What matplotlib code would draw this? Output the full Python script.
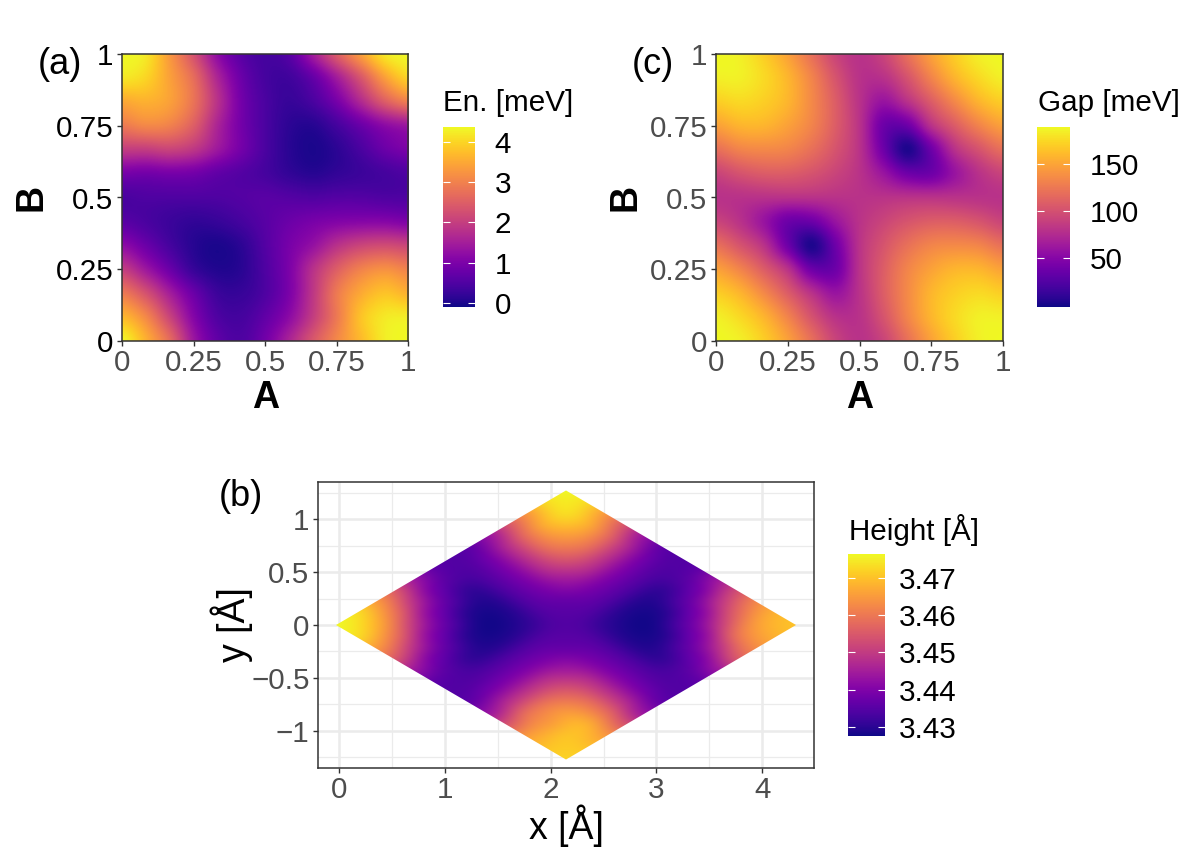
import numpy as np
import matplotlib
matplotlib.use("Agg")
import matplotlib.pyplot as plt
from matplotlib.patches import Polygon
from matplotlib.transforms import Affine2D

plt.rcParams['font.family'] = ['Liberation Sans', 'DejaVu Sans']

W, H = 1200, 855

# stacking energy on the A/B grid (rows: B = 0..1, columns: A = 0..1, step 1/12)
energy = [
    [4.37, 3.6, 2.7, 1.4, 0.7, 0.5, 0.9, 1.6, 2.4, 3.1, 3.7, 4.25, 4.37],
    [3.7, 3.1, 2.1, 1.1, 0.5, 0.4, 0.7, 1.2, 2.0, 2.9, 3.8, 4.2, 4.25],
    [2.9, 2.3, 1.5, 0.8, 0.3, 0.25, 0.5, 1.0, 1.9, 2.9, 3.5, 3.8, 3.6],
    [2.0, 1.4, 0.8, 0.25, 0.05, 0.12, 0.5, 1.0, 1.8, 2.5, 3.0, 3.2, 3.0],
    [1.2, 0.8, 0.4, 0.1, 0.0, 0.15, 0.55, 0.95, 1.3, 1.8, 2.1, 2.2, 2.1],
    [0.6, 0.45, 0.3, 0.2, 0.25, 0.4, 0.6, 0.8, 0.95, 1.05, 1.1, 1.1, 1.0],
    [0.45, 0.5, 0.5, 0.5, 0.5, 0.55, 0.6, 0.55, 0.5, 0.55, 0.55, 0.5, 0.5],
    [0.95, 0.9, 0.95, 0.9, 0.7, 0.55, 0.4, 0.2, 0.1, 0.2, 0.3, 0.4, 0.5],
    [2.0, 2.0, 2.1, 1.9, 1.4, 0.9, 0.45, 0.12, 0.0, 0.15, 0.45, 0.8, 1.0],
    [2.9, 3.1, 3.0, 2.5, 1.6, 0.9, 0.45, 0.15, 0.1, 0.4, 0.8, 1.2, 1.4],
    [3.5, 3.6, 3.4, 2.8, 1.8, 0.9, 0.45, 0.25, 0.45, 0.95, 1.7, 2.5, 3.0],
    [4.2, 4.0, 3.4, 2.7, 1.6, 0.8, 0.4, 0.35, 0.75, 1.5, 2.4, 3.4, 4.0],
    [4.37, 4.2, 3.3, 2.3, 1.2, 0.6, 0.4, 0.6, 1.5, 2.5, 3.4, 4.2, 4.37],
]

# band gap on the same grid
gap = [
    [189, 185, 170, 148, 120, 92, 80, 92, 120, 148, 170, 185, 189],
    [185, 175, 158, 132, 102, 80, 80, 102, 132, 158, 175, 185, 185],
    [170, 158, 135, 108, 80, 60, 80, 108, 135, 158, 170, 175, 170],
    [148, 132, 108, 80, 38, 38, 80, 108, 132, 148, 158, 158, 148],
    [120, 102, 80, 38, 3, 38, 80, 102, 120, 132, 135, 132, 120],
    [92, 80, 60, 38, 38, 60, 80, 92, 102, 108, 108, 102, 92],
    [80, 80, 80, 80, 80, 80, 80, 80, 80, 80, 80, 80, 80],
    [92, 102, 108, 108, 102, 92, 80, 60, 38, 38, 60, 80, 92],
    [120, 132, 135, 132, 120, 102, 80, 38, 3, 38, 80, 102, 120],
    [148, 158, 158, 148, 132, 108, 80, 38, 38, 80, 108, 132, 148],
    [170, 175, 170, 158, 135, 108, 80, 60, 80, 108, 135, 158, 170],
    [185, 185, 175, 158, 132, 102, 80, 80, 102, 132, 158, 175, 185],
    [189, 185, 170, 148, 120, 92, 80, 92, 120, 148, 170, 185, 189],
]

# interlayer height on the same grid, shown in cartesian coordinates
height = [
    [3.476, 3.473, 3.465, 3.455, 3.444, 3.4365, 3.4345, 3.4365, 3.444, 3.455, 3.465, 3.470, 3.472],
    [3.473, 3.468, 3.459, 3.448, 3.439, 3.4345, 3.4345, 3.439, 3.448, 3.459, 3.465, 3.470, 3.470],
    [3.465, 3.459, 3.449, 3.440, 3.4345, 3.431, 3.4345, 3.440, 3.449, 3.459, 3.465, 3.468, 3.465],
    [3.455, 3.448, 3.440, 3.4345, 3.4295, 3.4295, 3.4345, 3.440, 3.448, 3.455, 3.459, 3.459, 3.455],
    [3.444, 3.439, 3.4345, 3.4295, 3.428, 3.4295, 3.4345, 3.439, 3.444, 3.448, 3.449, 3.448, 3.444],
    [3.4365, 3.4345, 3.431, 3.4295, 3.4295, 3.431, 3.4345, 3.4365, 3.439, 3.440, 3.440, 3.439, 3.4365],
    [3.4345, 3.4345, 3.4345, 3.4345, 3.4345, 3.4345, 3.4345, 3.4345, 3.4345, 3.4345, 3.4345, 3.4345, 3.4345],
    [3.4365, 3.439, 3.440, 3.440, 3.439, 3.4365, 3.4345, 3.431, 3.4295, 3.4295, 3.431, 3.4345, 3.4365],
    [3.444, 3.448, 3.449, 3.448, 3.444, 3.439, 3.4345, 3.4295, 3.428, 3.4295, 3.4345, 3.439, 3.444],
    [3.455, 3.459, 3.459, 3.455, 3.448, 3.440, 3.4345, 3.4295, 3.4295, 3.4345, 3.440, 3.448, 3.455],
    [3.465, 3.468, 3.465, 3.459, 3.449, 3.440, 3.4345, 3.431, 3.4345, 3.440, 3.449, 3.459, 3.463],
    [3.473, 3.473, 3.468, 3.459, 3.448, 3.439, 3.4345, 3.4345, 3.439, 3.448, 3.457, 3.465, 3.468],
    [3.476, 3.473, 3.465, 3.455, 3.444, 3.4365, 3.4345, 3.4365, 3.444, 3.453, 3.462, 3.468, 3.470],
]

unit_ticks = [0, 0.25, 0.5, 0.75, 1]
unit_labels = ['0', '0.25', '0.5', '0.75', '1']
energy_ticks = [0, 1, 2, 3, 4]
gap_ticks = [50, 100, 150]
height_ticks = [3.43, 3.44, 3.45, 3.46, 3.47]
x_ticks = [0, 1, 2, 3, 4]
y_ticks = [-1, -0.5, 0, 0.5, 1]
y_labels = ['\u22121', '\u22120.5', '0', '0.5', '1']
x_minor = [0.5, 1.5, 2.5, 3.5]
y_minor = [-1.25, -0.75, -0.25, 0.25, 0.75, 1.25]

# half-cell step so grid nodes sit on the 0..1 range
EXT = [-1 / 24, 1 + 1 / 24, -1 / 24, 1 + 1 / 24]
GREY = '#4D4D4D'
DARK = '#333333'
FS = 21.3


def px_axes(fig, left, top, right, bottom):
    return fig.add_axes([left / W, 1 - bottom / H, (right - left) / W, (bottom - top) / H])


def px_text(fig, x, y, s, **kw):
    kw.setdefault('va', 'center')
    kw.setdefault('color', 'black')
    fig.text(x / W, 1 - y / H, s, **kw)


def style_axes(ax):
    for sp in ax.spines.values():
        sp.set_color(DARK)
        sp.set_linewidth(1.1)
    ax.tick_params(length=3.6, width=1.0, color=DARK, labelsize=FS, pad=2.5)


def add_cbar(fig, im, box, ticks, labels=None, pad=14):
    cax = px_axes(fig, *box)
    cb = fig.colorbar(im, cax=cax)
    cb.set_ticks(ticks)
    if labels:
        cb.set_ticklabels(labels)
    cb.outline.set_visible(False)
    cax.tick_params(which='both', direction='in', color='white', width=0.8, length=4.7,
                    left=True, right=True, labelsize=FS, pad=pad, labelcolor='black')
    cax.minorticks_off()
    return cb


def square_panel(fig, box, data, vmin, vmax, ycolor):
    ax = px_axes(fig, *box)
    im = ax.imshow(data, origin='lower', extent=EXT, cmap='plasma', vmin=vmin, vmax=vmax,
                   interpolation='catrom', aspect='auto')
    ax.set_xlim(0, 1)
    ax.set_ylim(0, 1)
    ax.set_xticks(unit_ticks, unit_labels)
    ax.set_yticks(unit_ticks, unit_labels)
    style_axes(ax)
    ax.tick_params(axis='x', labelcolor=GREY)
    ax.tick_params(axis='y', labelcolor=ycolor)
    return ax, im


fig = plt.figure(figsize=(W / 100, H / 100), dpi=100)

# panel (a)
ax_a, im_a = square_panel(fig, (122, 54, 408, 341), energy, -0.1, 4.37, 'black')
add_cbar(fig, im_a, (443, 127, 475, 307), energy_ticks)
px_text(fig, 38, 65, '(a)', fontsize=26)
px_text(fig, 266, 398, 'A', fontsize=27, fontweight='bold', ha='center')
px_text(fig, 32, 197, 'B', fontsize=27, fontweight='bold', ha='center', rotation=90)
px_text(fig, 443, 103, 'En. [meV]', fontsize=FS)

# panel (c)
ax_c, im_c = square_panel(fig, (716, 54, 1003, 341), gap, -2, 189, GREY)
add_cbar(fig, im_c, (1037, 127, 1070, 307), gap_ticks)
px_text(fig, 632, 65, '(c)', fontsize=26)
px_text(fig, 860, 398, 'A', fontsize=27, fontweight='bold', ha='center')
px_text(fig, 626, 197, 'B', fontsize=27, fontweight='bold', ha='center', rotation=90)
px_text(fig, 1038, 103, 'Gap [meV]', fontsize=FS)

# panel (b): unit cell as a rhombus in cartesian coordinates
ax_b = px_axes(fig, 318, 482, 814, 768)
a_vec = (2.15, -1.25)
b_vec = (2.15, 1.25)
cell = Affine2D(np.array([[a_vec[0], b_vec[0], 0], [a_vec[1], b_vec[1], 0], [0, 0, 1]]))
im_b = ax_b.imshow(height, origin='lower', extent=EXT, cmap='plasma', vmin=3.4276, vmax=3.4764,
                   interpolation='catrom', aspect='auto', transform=cell + ax_b.transData,
                   zorder=3)
# clip slightly outside the cell, the lattice points have a finite size
outline = Polygon([(-0.03, 0), (2.145, -1.27), (4.32, 0), (2.145, 1.27)], closed=True,
                  transform=ax_b.transData, fill=False, edgecolor='none')
ax_b.add_patch(outline)
im_b.set_clip_path(outline)
ax_b.set_xlim(-0.2, 4.49)
ax_b.set_ylim(-1.35, 1.35)
ax_b.set_xticks(x_ticks)
ax_b.set_yticks(y_ticks, y_labels)
ax_b.set_xticks(x_minor, minor=True)
ax_b.set_yticks(y_minor, minor=True)
ax_b.grid(which='major', color='#EBEBEB', lw=1.8)
ax_b.grid(which='minor', color='#EBEBEB', lw=0.9)
ax_b.set_axisbelow(True)
style_axes(ax_b)
ax_b.tick_params(which='minor', length=0)
ax_b.tick_params(axis='both', labelcolor=GREY)
add_cbar(fig, im_b, (848, 554, 885, 736), height_ticks, ['3.43', '3.44', '3.45', '3.46', '3.47'], pad=10)
px_text(fig, 219, 496, '(b)', fontsize=26)
px_text(fig, 566, 826, 'x [Å]', fontsize=27, ha='center')
px_text(fig, 232, 625, 'y [Å]', fontsize=27, ha='center', rotation=90)
px_text(fig, 849, 530, 'Height [Å]', fontsize=FS)

fig.savefig('out.png', dpi=100)
